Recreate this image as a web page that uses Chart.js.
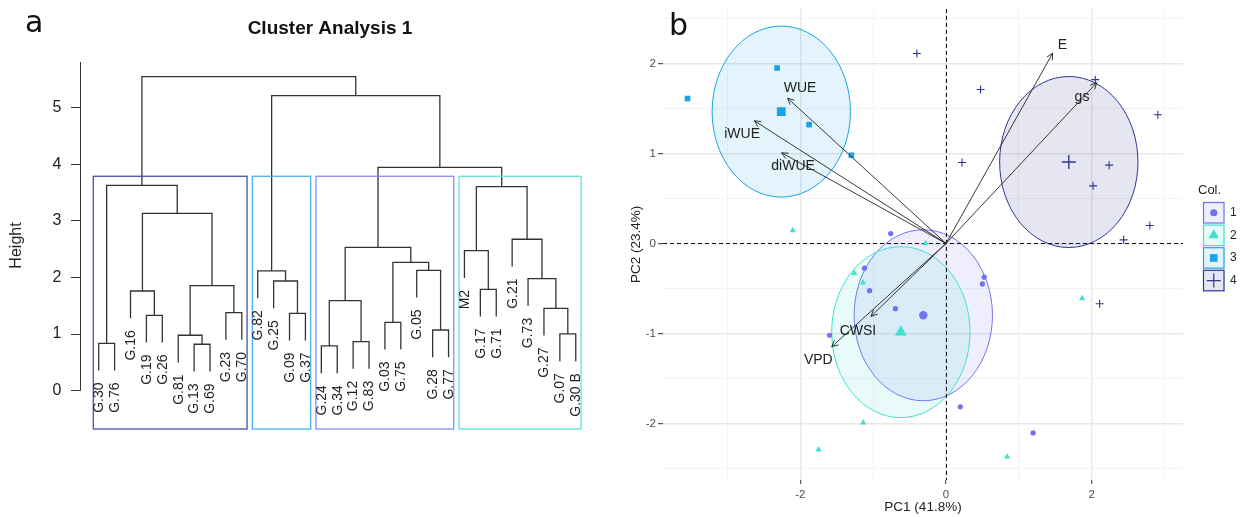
<!DOCTYPE html>
<html><head><meta charset="utf-8">
<script src="https://cdn.jsdelivr.net/npm/chart.js@4.4.1/dist/chart.umd.min.js"></script>
<style>
html,body{margin:0;padding:0;background:#fff;width:1241px;height:517px;overflow:hidden;}
#wrapA{position:absolute;left:0;top:0;width:620px;height:517px;}
#wrapB{position:absolute;left:620px;top:0;width:621px;height:517px;}
.panel{position:absolute;font-family:"DejaVu Sans",sans-serif;font-size:30px;line-height:30px;color:#111;}
</style></head><body>
<div id="wrapA"><canvas id="cA" width="620" height="517"></canvas></div>
<div id="wrapB"><canvas id="cB" width="621" height="517"></canvas></div>
<div class="panel" style="left:25px;top:7px">a</div>
<div class="panel" style="left:669px;top:10px">b</div>
<script>
// ---------------- Panel a: dendrogram data ----------------
const dendroTitle = "Cluster Analysis 1";
const leafLabels = ["G.30","G.76","G.16","G.19","G.26","G.81","G.13","G.69","G.23","G.70",
  "G.82","G.25","G.09","G.37","G.24","G.34","G.12","G.83","G.03","G.75","G.05","G.28","G.77",
  "M2","G.17","G.71","G.21","G.73","G.27","G.07","G.30 B"];
const leafCluster = [4,4,4,4,4,4,4,4,4,4,3,3,3,3,1,1,1,1,1,1,1,1,1,2,2,2,2,2,2,2,2];
// hclust-style merges: negative = leaf (1-based order), positive = earlier merge row
const mergeLeft   = [-1,-4,-3,-7,-6,-9,5,3,1,-13,-12,-11,-15,-17,13,-19,-22,-21,16,15,-25,-24,-30,-29,-28,-27,22,20,12,9];
const mergeRight  = [-2,-5,2,-8,4,-10,6,7,8,-14,10,11,-16,-18,14,-20,-23,17,18,19,-26,21,-31,23,24,25,26,27,28,29];
const mergeHeight = [0.837,1.332,1.761,0.820,0.979,1.378,1.855,3.134,3.629,1.367,1.938,2.115,0.790,0.866,1.590,1.208,1.072,2.127,2.268,2.533,1.791,2.473,1.002,1.455,1.979,2.675,3.604,3.947,5.212,5.548];
const heightTicks = [0,1,2,3,4,5];
const leafHang = 0.48;
const nClusters = 4;

// ---------------- Panel b: PCA data ----------------
const c1x = [-0.76,-1.12,-1.05,-0.695,-1.60,0.525,0.50,0.196,1.196];
const c1y = [0.11,-0.275,-0.525,-0.725,-1.02,-0.375,-0.45,-1.815,-2.105];
const c2x = [-2.105,-0.28,-1.26,-1.14,-1.137,-1.75,1.87,0.84];
const c2y = [0.145,0.0,-0.33,-0.435,-1.99,-2.29,-0.61,-2.37];
const c3x = [-3.55,-2.32,-1.88,-1.30];
const c3y = [1.61,1.95,1.32,0.98];
const c4x = [-0.40,0.475,0.22,2.05,2.24,2.02,2.91,2.80,2.44,2.11];
const c4y = [2.11,1.71,0.90,1.82,0.87,0.64,1.43,0.20,0.04,-0.67];
const clusterNames = ["1","2","3","4"];
const ellipseRadius = [0.95,0.95,0.95,0.95];
const varNames = ["E","gs","WUE","iWUE","diWUE","CWSI","VPD"];
const varPC1 = [1.465,2.07,-2.175,-2.633,-2.257,-1.03,-1.57];
const varPC2 = [2.115,1.785,1.614,1.363,1.007,-0.81,-1.148];
const varLabX = [1.60,1.868,-2.005,-2.80,-2.10,-1.209,-1.754];
const varLabY = [2.206,1.63,1.725,1.214,0.861,-0.974,-1.30];
const pc1Ticks = [-3,-2,-1,0,1,2,3];
const pc2Ticks = [-2.5,-2,-1.5,-1,-0.5,0,0.5,1,1.5,2,2.5];
const pc1Title = "PC1 (41.8%)";
const pc2Title = "PC2 (23.4%)";
const legendTitle = "Col.";

// ---------------- styling ----------------
const FONT = "'Liberation Sans', Arial, sans-serif";
Chart.defaults.font.family = FONT;
Chart.defaults.animation = false;
const clusterColors = ["#7272EE","#40E0D0","#1AA3E8","#2E3592"];
const clusterFill = ["rgba(114,114,238,0.12)","rgba(64,224,208,0.12)","rgba(26,163,232,0.12)","rgba(46,53,146,0.12)"];
const boxColors = {1:"#8C8CF4",2:"#5EE3D8",3:"#45B5EC",4:"#4A4FA8"};

// ---------------- build dendrogram ----------------
const nodeX = [];
function xOf(ref){ return ref < 0 ? -ref : nodeX[ref-1]; }
function hOf(ref, parentH){ return ref < 0 ? parentH - leafHang : mergeHeight[ref-1]; }
const leafBottom = new Array(leafLabels.length).fill(0);
const dendroDatasets = [];
for (let i = 0; i < mergeHeight.length; i++) {
  const l = mergeLeft[i], r = mergeRight[i], h = mergeHeight[i];
  const xl = xOf(l), xr = xOf(r);
  nodeX.push((xl + xr) / 2);
  if (l < 0) leafBottom[-l-1] = h - leafHang;
  if (r < 0) leafBottom[-r-1] = h - leafHang;
  dendroDatasets.push({
    type:'line',
    data:[{x:xl,y:hOf(l,h)},{x:xl,y:h},{x:xr,y:h},{x:xr,y:hOf(r,h)}],
    borderColor:'#333', borderWidth:1.3, pointRadius:0, tension:0, fill:false
  });
}
const sortedH = mergeHeight.slice().sort((a,b)=>b-a);
const cutHeight = (sortedH[nClusters-2] + sortedH[nClusters-1]) / 2;
const boxes = [];
leafCluster.forEach((c, i) => {
  const last = boxes[boxes.length-1];
  if (last && last.c === c) last.end = i+1; else boxes.push({c, start:i+1, end:i+1});
});

const dendroPlugin = {
  id:'dendroDecor',
  afterDraw(chart){
    const {ctx, chartArea} = chart;
    const xs = chart.scales.x, ys = chart.scales.y;
    ctx.save();
    // axis line
    ctx.strokeStyle = '#333'; ctx.lineWidth = 1;
    ctx.beginPath();
    const ax = Math.round(chartArea.left) + 0.5;
    ctx.moveTo(ax, ys.getPixelForValue(0));
    ctx.lineTo(ax, chartArea.top);
    ctx.stroke();
    // cluster rectangles
    boxes.forEach(b => {
      const x0 = xs.getPixelForValue(b.start - 0.34), x1 = xs.getPixelForValue(b.end + 0.33);
      const y0 = ys.getPixelForValue(cutHeight), y1 = chartArea.bottom;
      ctx.strokeStyle = boxColors[b.c]; ctx.lineWidth = 1.3;
      ctx.strokeRect(x0, y0, x1-x0, y1-y0);
    });
    // leaf labels
    ctx.fillStyle = '#222';
    ctx.font = "14px " + FONT;
    ctx.textAlign = 'right'; ctx.textBaseline = 'middle';
    leafLabels.forEach((lab, i) => {
      const px = xs.getPixelForValue(i+1);
      const py = ys.getPixelForValue(leafBottom[i]) + 12;
      ctx.save(); ctx.translate(px, py); ctx.rotate(-Math.PI/2);
      ctx.fillText(lab, 0, 0.5); ctx.restore();
    });
    // title
    ctx.font = "bold 19px " + FONT;
    ctx.textAlign = 'center'; ctx.textBaseline = 'alphabetic';
    ctx.fillStyle = '#111';
    ctx.fillText(dendroTitle, 330, 34);
    ctx.restore();
  }
};

new Chart(document.getElementById('cA'), {
  type:'line',
  data:{datasets:dendroDatasets},
  options:{
    responsive:false, devicePixelRatio:1,
    layout:{padding:{left:0,right:25,top:62,bottom:88}},
    plugins:{legend:{display:false},tooltip:{enabled:false}},
    scales:{
      x:{type:'linear', display:false, min:-0.2075, max:32.21},
      y:{type:'linear', min:-0.677, max:5.807,
        afterFit(s){ s.width = 79.5; },
        afterBuildTicks(s){ s.ticks = heightTicks.map(v=>({value:v})); },
        border:{display:false},
        grid:{drawOnChartArea:false, drawTicks:true, tickLength:8.6, tickColor:'#333', tickWidth:1},
        ticks:{font:{size:16}, color:'#222', padding:9.5},
        title:{display:true, text:'Height', font:{size:16}, color:'#222', padding:{top:7.1,bottom:0}}
      }
    }
  },
  plugins:[dendroPlugin]
});

// ---------------- build PCA chart ----------------
const clX = [c1x,c2x,c3x,c4x], clY = [c1y,c2y,c3y,c4y];
const mean = a => a.reduce((s,v)=>s+v,0)/a.length;
const centX = clX.map(mean), centY = clY.map(mean);
const pointStyles = ['circle','triangle','rect','cross'];
const pointRadii = [2.6,3.6,4,4];
const centRadii = [4.2,6.8,6.2,7];
const pcaDatasets = [];
for (let k = 0; k < 4; k++) {
  pcaDatasets.push({
    type:'scatter', order:3,
    data: clX[k].map((x,i)=>({x, y:clY[k][i]})),
    pointStyle:pointStyles[k], pointRadius:pointRadii[k],
    backgroundColor:clusterColors[k], borderColor:clusterColors[k],
    borderWidth: k===3 ? 1.1 : 0
  });
  pcaDatasets.push({
    type:'scatter', order:2,
    data:[{x:centX[k], y:centY[k]}],
    pointStyle:pointStyles[k], pointRadius:centRadii[k],
    backgroundColor:clusterColors[k], borderColor:clusterColors[k],
    borderWidth: k===3 ? 1.4 : 0
  });
}
varNames.forEach((n,i)=>{
  pcaDatasets.push({
    type:'line', order:1,
    data:[{x:0,y:0},{x:varPC1[i],y:varPC2[i]}],
    borderColor:'#222', borderWidth:0.9, pointRadius:0, fill:false
  });
});

const pcaPlugin = {
  id:'pcaDecor',
  beforeDatasetsDraw(chart){
    const {ctx, chartArea:ca} = chart;
    const xs = chart.scales.x, ys = chart.scales.y;
    ctx.save();
    ctx.beginPath(); ctx.rect(ca.left, ca.top, ca.right-ca.left, ca.bottom-ca.top); ctx.clip();
    for (let k = 0; k < 4; k++) {
      const cx = xs.getPixelForValue(centX[k]), cy = ys.getPixelForValue(centY[k]);
      const rx = Math.abs(xs.getPixelForValue(centX[k]+ellipseRadius[k]) - cx);
      const ry = Math.abs(ys.getPixelForValue(centY[k]+ellipseRadius[k]) - cy);
      ctx.beginPath(); ctx.ellipse(cx, cy, rx, ry, 0, 0, Math.PI*2);
      ctx.fillStyle = clusterFill[k]; ctx.fill();
      ctx.strokeStyle = clusterColors[k]; ctx.lineWidth = 1; ctx.stroke();
    }
    // zero lines
    ctx.setLineDash([4,3]); ctx.strokeStyle = '#111'; ctx.lineWidth = 1;
    const x0 = Math.round(xs.getPixelForValue(0)) + 0.5, y0 = Math.round(ys.getPixelForValue(0)) + 0.5;
    ctx.beginPath(); ctx.moveTo(x0, ca.top); ctx.lineTo(x0, ca.bottom); ctx.stroke();
    ctx.beginPath(); ctx.moveTo(ca.left, y0); ctx.lineTo(ca.right, y0); ctx.stroke();
    ctx.restore();
  },
  afterDatasetsDraw(chart){
    const {ctx} = chart;
    const xs = chart.scales.x, ys = chart.scales.y;
    ctx.save();
    const ox = xs.getPixelForValue(0), oy = ys.getPixelForValue(0);
    ctx.strokeStyle = '#222'; ctx.lineWidth = 0.9;
    varNames.forEach((n,i)=>{
      const tx = xs.getPixelForValue(varPC1[i]), ty = ys.getPixelForValue(varPC2[i]);
      const a = Math.atan2(ty-oy, tx-ox);
      const L = 7, w = 0.45;
      ctx.beginPath();
      ctx.moveTo(tx - L*Math.cos(a-w), ty - L*Math.sin(a-w));
      ctx.lineTo(tx, ty);
      ctx.lineTo(tx - L*Math.cos(a+w), ty - L*Math.sin(a+w));
      ctx.stroke();
    });
    ctx.fillStyle = '#222'; ctx.font = "14px " + FONT;
    ctx.textAlign = 'center'; ctx.textBaseline = 'middle';
    varNames.forEach((n,i)=>{
      ctx.fillText(n, xs.getPixelForValue(varLabX[i]), ys.getPixelForValue(varLabY[i]));
    });
    ctx.restore();
  },
  afterDraw(chart){
    const {ctx} = chart;
    ctx.save();
    ctx.fillStyle = '#222'; ctx.font = "13px " + FONT;
    ctx.textAlign = 'left'; ctx.textBaseline = 'middle';
    ctx.fillText(legendTitle, 578, 190);
    const bx = 583, bw = 21.5, pitch = 22.6, by0 = 202;
    for (let k = 0; k < 4; k++) {
      const by = by0 + k*pitch;
      ctx.fillStyle = '#fff'; ctx.fillRect(bx, by, bw, bw);
      ctx.fillStyle = clusterFill[k]; ctx.fillRect(bx, by, bw, bw);
      ctx.strokeStyle = clusterColors[k]; ctx.lineWidth = 1.2;
      ctx.strokeRect(bx+0.5, by+0.5, bw-1, bw-1);
      const cx = bx + bw/2, cy = by + bw/2;
      ctx.fillStyle = clusterColors[k]; ctx.strokeStyle = clusterColors[k];
      Chart.helpers.drawPoint(ctx, {pointStyle:pointStyles[k], radius:[3.6,6,5.4,7][k], borderWidth:k===3?1.3:0}, cx, cy);
      ctx.fillStyle = '#222'; ctx.font = "12px " + FONT;
      ctx.fillText(clusterNames[k], 610, cy);
    }
    ctx.restore();
  }
};

const isMajorX = v => Math.abs(v % 2) < 1e-9;
const isMajorY = v => Math.abs(v - Math.round(v)) < 1e-9;
new Chart(document.getElementById('cB'), {
  type:'scatter',
  data:{datasets:pcaDatasets},
  options:{
    responsive:false, devicePixelRatio:1,
    layout:{padding:{left:0,right:58,top:0,bottom:0}},
    plugins:{legend:{display:false},tooltip:{enabled:false}},
    scales:{
      x:{type:'linear', min:-3.887, max:3.255,
        afterFit(s){ s.height = 37; },
        afterBuildTicks(s){ s.ticks = pc1Ticks.map(v=>({value:v})); },
        border:{display:false},
        grid:{
          color:c=> isMajorX(c.tick.value) ? '#E8E8E8' : '#F2F2F2',
          lineWidth:c=> isMajorX(c.tick.value) ? 1.4 : 0.9,
          tickColor:c=> isMajorX(c.tick.value) ? '#333' : 'rgba(0,0,0,0)',
          tickLength:4, tickWidth:1
        },
        ticks:{font:{size:11.5}, color:'#4D4D4D', padding:4, maxRotation:0, autoSkip:false,
          callback:v=> isMajorX(v) ? String(v).replace('-', '-') : ''},
        title:{display:true, text:pc1Title, font:{size:13.5}, color:'#222', padding:{top:0,bottom:1.9}}
      },
      y:{type:'linear', min:-2.628, max:2.606,
        afterFit(s){ s.width = 43; },
        afterBuildTicks(s){ s.ticks = pc2Ticks.map(v=>({value:v})); },
        border:{display:false},
        grid:{
          color:c=> isMajorY(c.tick.value) ? '#E8E8E8' : '#F2F2F2',
          lineWidth:c=> isMajorY(c.tick.value) ? 1.4 : 0.9,
          tickColor:c=> isMajorY(c.tick.value) ? '#333' : 'rgba(0,0,0,0)',
          tickLength:5, tickWidth:1
        },
        ticks:{font:{size:11.5}, color:'#4D4D4D', padding:2, autoSkip:false,
          callback:v=> isMajorY(v) ? String(v) : ''},
        title:{display:true, text:pc2Title, font:{size:13.5}, color:'#222', padding:{top:8.6,bottom:0}}
      }
    }
  },
  plugins:[pcaPlugin]
});
</script>
</body></html>
